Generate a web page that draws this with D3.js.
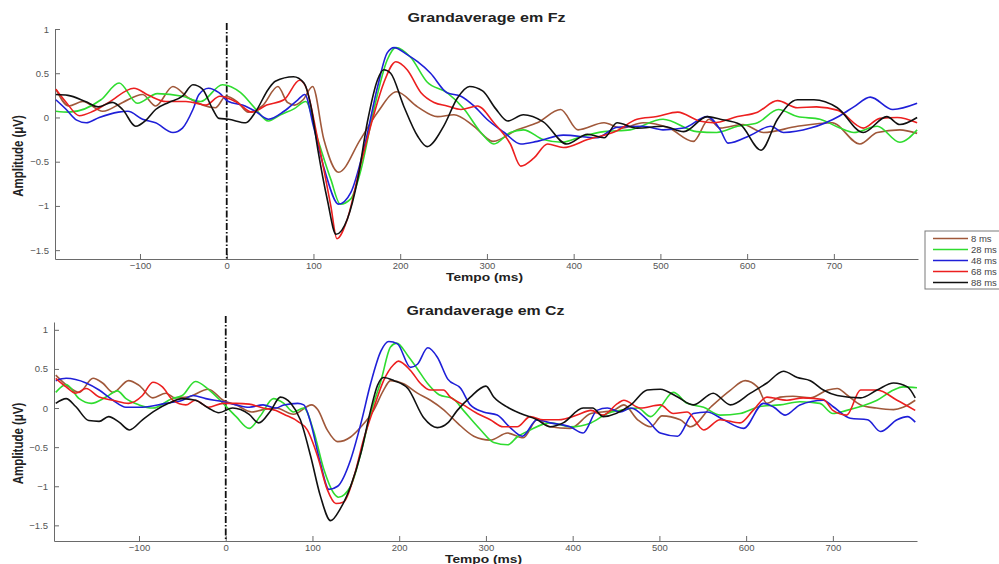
<!DOCTYPE html>
<html>
<head>
<meta charset="utf-8">
<script src="https://cdn.jsdelivr.net/npm/d3@7"></script>
<style>
  body { margin: 0; background: #fff; }
  svg { display: block; font-family: "Liberation Sans", Arial, sans-serif; }
</style>
</head>
<body>
<svg width="999" height="564"></svg>
<script>
// ERP grand averages, [time (ms), amplitude (uV)]
const legendLabels = ['8 ms', '28 ms', '48 ms', '68 ms', '88 ms'];
const lineColors = ['#a0583a', '#2fdc2f', '#1f1fd8', '#ec1f1f', '#111111'];
const xTicks = [-100, 0, 100, 200, 300, 400, 500, 600, 700];
const yTicks = [-1.5, -1, -0.5, 0, 0.5, 1];

const fz8 = [[-197,0.32],[-182,0.13],[-166,0.18],[-143,0.07],[-120,0.17],[-97,0.26],[-82,0.13],[-62,0.35],[-44,0.22],[-13,0.11],[-1,0.24],[12,0.18],[25,0.06],[41,0.13],[59,0.35],[70,0.17],[78,0.14],[88,0.2],[99,0.35],[112,-0.25],[129,-0.62],[154,-0.25],[174,0.06],[196,0.29],[220,0.12],[243,0.01],[262,0.03],[285,-0.1],[307,-0.27],[335,-0.14],[358,-0.06],[385,0.09],[405,-0.14],[435,-0.06],[455,-0.12],[480,-0.06],[510,-0.12],[538,-0.27],[556,-0.02],[569,-0.12],[595,-0.08],[619,-0.17],[658,-0.1],[698,-0.06],[730,-0.3],[750,-0.17],[776,-0.14],[796,-0.18]];
const fz28 = [[-197,0.07],[-182,0.06],[-145,0.2],[-124,0.39],[-103,0.16],[-80,0.27],[-51,0.24],[-30,0.18],[-5,0.37],[16,0.28],[33,0.1],[48,-0.04],[62,0.03],[78,0.1],[91,0.18],[105,-0.25],[120,-0.7],[131,-0.98],[143,-0.92],[154,-0.62],[169,0.06],[185,0.65],[195,0.79],[212,0.68],[231,0.4],[254,0.28],[274,0.09],[293,-0.17],[308,-0.3],[327,-0.17],[342,-0.14],[365,-0.25],[386,-0.28],[411,-0.21],[435,-0.16],[465,-0.14],[503,-0.02],[542,-0.16],[565,-0.17],[589,-0.1],[612,-0.06],[636,0.09],[658,0.01],[684,-0.02],[707,-0.12],[723,-0.17],[750,-0.1],[776,-0.28],[796,-0.14]];
const fz48 = [[-197,0.2],[-185,0.09],[-173,-0.03],[-162,-0.06],[-147,0.0],[-125,0.06],[-114,0.07],[-97,-0.02],[-82,-0.06],[-62,-0.17],[-51,-0.12],[-39,0.09],[-32,0.26],[-21,0.33],[-9,0.28],[2,0.18],[18,0.14],[33,0.07],[48,-0.02],[66,0.07],[82,0.2],[90,0.26],[100,-0.1],[113,-0.6],[129,-0.98],[143,-0.85],[158,-0.36],[174,0.35],[185,0.73],[193,0.79],[208,0.71],[220,0.63],[235,0.5],[254,0.28],[270,0.24],[285,0.13],[300,-0.02],[320,-0.17],[339,-0.3],[358,-0.27],[388,-0.2],[427,-0.23],[450,-0.11],[480,-0.1],[503,-0.14],[527,-0.12],[554,0.01],[569,-0.14],[578,-0.29],[604,-0.2],[627,-0.1],[642,-0.17],[673,-0.12],[707,0.02],[723,0.12],[742,0.23],[768,0.09],[796,0.16]];
const fz68 = [[-197,0.32],[-185,0.17],[-170,0.02],[-154,0.07],[-136,0.17],[-107,0.33],[-90,0.25],[-70,0.18],[-47,0.18],[-24,0.14],[-8,0.24],[12,0.17],[29,0.06],[46,0.14],[66,0.2],[84,0.42],[91,0.35],[105,-0.25],[120,-1.0],[127,-1.37],[139,-1.15],[154,-0.55],[169,0.01],[181,0.39],[195,0.63],[208,0.54],[224,0.28],[239,0.17],[254,0.13],[270,0.09],[289,0.13],[308,-0.06],[327,-0.3],[339,-0.55],[354,-0.46],[370,-0.3],[388,-0.34],[416,-0.25],[450,-0.15],[473,-0.02],[496,0.01],[520,0.06],[545,-0.04],[561,-0.06],[589,0.01],[612,0.06],[635,0.19],[658,0.11],[680,0.12],[705,0.08],[734,-0.12],[753,-0.01],[773,0.0],[796,-0.06]];
const fz88 = [[-197,0.26],[-183,0.25],[-163,0.18],[-148,0.12],[-132,0.17],[-120,0.09],[-105,-0.1],[-93,-0.03],[-82,0.09],[-67,0.17],[-51,0.24],[-39,0.37],[-28,0.32],[-16,0.09],[-9,-0.01],[2,-0.02],[22,-0.06],[33,0.06],[48,0.32],[56,0.41],[77,0.46],[89,0.39],[97,0.13],[105,-0.36],[116,-0.93],[126,-1.32],[139,-1.15],[151,-0.7],[162,-0.06],[174,0.43],[181,0.54],[189,0.5],[204,0.13],[220,-0.21],[231,-0.33],[250,-0.1],[266,0.22],[280,0.35],[295,0.3],[310,0.1],[324,-0.04],[342,0.03],[365,-0.05],[392,-0.3],[416,-0.19],[435,-0.23],[450,-0.06],[473,-0.12],[503,-0.1],[527,-0.16],[554,0.01],[569,-0.02],[592,-0.08],[616,-0.37],[635,-0.02],[658,0.2],[677,0.2],[704,0.11],[734,-0.17],[761,0.01],[776,-0.08],[796,0.0]];

const cz8 = [[-196,0.42],[-181,0.27],[-169,0.2],[-153,0.38],[-142,0.32],[-130,0.2],[-112,0.35],[-100,0.29],[-84,0.13],[-69,0.19],[-58,0.13],[-44,0.14],[-20,0.24],[-3,0.1],[12,0.04],[30,-0.05],[43,-0.02],[58,0.0],[78,-0.08],[99,0.04],[106,-0.02],[117,-0.28],[129,-0.43],[144,-0.37],[156,-0.24],[171,-0.02],[182,0.23],[190,0.35],[205,0.31],[221,0.19],[236,0.1],[251,-0.02],[267,-0.19],[286,-0.36],[305,-0.41],[325,-0.32],[343,-0.38],[359,-0.15],[374,-0.24],[397,-0.26],[421,-0.07],[447,-0.03],[459,0.04],[475,-0.15],[490,-0.24],[503,-0.1],[524,-0.15],[536,-0.24],[559,0.01],[582,0.23],[599,0.35],[613,0.27],[624,0.06],[639,0.14],[654,0.15],[674,0.13],[694,0.23],[705,0.25],[717,0.16],[732,0.04],[750,0.0],[770,-0.02],[781,0.01],[795,0.1]];
const cz28 = [[-196,0.2],[-184,0.3],[-169,0.12],[-155,0.06],[-138,0.14],[-125,0.22],[-115,0.12],[-100,0.04],[-84,0.0],[-62,0.12],[-50,0.16],[-35,0.34],[-20,0.24],[-3,0.06],[12,-0.11],[27,-0.26],[40,-0.1],[55,0.12],[67,0.06],[78,-0.05],[90,0.0],[101,-0.28],[113,-0.78],[124,-1.08],[130,-1.14],[144,-1.0],[156,-0.57],[167,-0.07],[179,0.35],[190,0.78],[197,0.83],[210,0.67],[221,0.5],[233,0.31],[246,0.17],[262,0.12],[274,-0.03],[294,-0.28],[309,-0.44],[325,-0.47],[336,-0.37],[351,-0.28],[374,-0.19],[397,-0.24],[421,-0.19],[440,-0.07],[455,-0.03],[475,0.0],[490,-0.11],[501,0.01],[516,0.2],[532,0.06],[551,0.01],[570,-0.09],[593,-0.07],[616,0.02],[639,0.04],[662,0.08],[685,0.06],[700,-0.07],[716,-0.03],[732,0.02],[751,0.1],[770,0.23],[781,0.27],[797,0.26]];
const cz48 = [[-196,0.35],[-184,0.38],[-161,0.32],[-146,0.23],[-130,0.1],[-115,0.01],[-96,0.01],[-69,0.06],[-50,0.1],[-38,0.16],[-23,0.12],[-3,0.08],[12,0.04],[27,0.01],[43,0.04],[58,0.0],[67,0.04],[83,0.06],[90,0.04],[98,-0.19],[109,-0.7],[119,-1.04],[129,-1.0],[144,-0.66],[156,-0.19],[167,0.31],[179,0.73],[188,0.85],[198,0.82],[213,0.52],[221,0.56],[233,0.77],[244,0.65],[256,0.37],[271,0.25],[282,0.04],[297,-0.05],[313,-0.09],[328,-0.25],[342,-0.36],[359,-0.15],[374,-0.19],[397,-0.24],[412,-0.32],[428,-0.03],[440,0.0],[455,-0.05],[467,0.0],[486,-0.15],[501,-0.32],[521,-0.36],[539,-0.07],[555,-0.05],[574,-0.15],[597,-0.26],[620,0.06],[632,0.01],[645,-0.09],[662,0.04],[689,0.1],[700,0.02],[720,-0.13],[740,-0.15],[755,-0.3],[774,-0.15],[786,-0.11],[795,-0.18]];
const cz68 = [[-196,0.38],[-184,0.27],[-173,0.19],[-161,0.25],[-146,0.14],[-130,0.1],[-112,0.06],[-96,0.16],[-84,0.33],[-73,0.27],[-61,0.1],[-46,0.04],[-35,0.1],[-20,0.01],[-3,0.06],[12,0.06],[27,0.05],[43,0.0],[58,-0.03],[67,-0.08],[83,-0.17],[94,-0.28],[106,-0.62],[117,-1.04],[127,-1.22],[136,-1.2],[148,-0.87],[159,-0.4],[171,0.01],[182,0.35],[194,0.56],[199,0.6],[213,0.48],[225,0.31],[236,0.23],[251,0.23],[259,0.14],[274,0.04],[290,-0.07],[305,-0.15],[320,-0.24],[336,-0.24],[351,-0.11],[366,-0.15],[384,-0.15],[405,-0.09],[421,-0.03],[435,-0.09],[452,0.06],[459,0.1],[478,0.0],[501,0.04],[516,-0.07],[532,-0.05],[551,-0.28],[570,-0.15],[593,-0.19],[608,-0.03],[624,0.14],[647,0.1],[666,0.13],[689,0.11],[700,-0.03],[716,-0.09],[732,0.23],[751,0.23],[774,0.1],[795,-0.03]];
const cz88 = [[-196,0.06],[-184,0.12],[-173,0.02],[-158,-0.16],[-146,-0.17],[-135,-0.11],[-123,-0.18],[-111,-0.28],[-96,-0.15],[-81,-0.03],[-66,0.06],[-50,0.12],[-35,0.1],[-20,0.0],[-8,-0.06],[8,0.0],[27,-0.08],[38,-0.19],[52,-0.03],[63,0.14],[75,0.06],[86,-0.15],[98,-0.62],[109,-1.12],[121,-1.44],[132,-1.29],[144,-1.0],[156,-0.57],[167,-0.03],[175,0.29],[182,0.39],[194,0.35],[210,0.25],[228,-0.12],[244,-0.25],[256,-0.19],[267,-0.03],[282,0.14],[300,0.28],[309,0.14],[325,0.01],[340,-0.07],[359,-0.15],[374,-0.24],[389,-0.19],[412,0.0],[423,0.0],[435,-0.11],[467,0.04],[486,0.23],[501,0.24],[521,0.14],[539,0.04],[562,0.19],[582,0.04],[605,0.19],[624,0.32],[643,0.47],[659,0.39],[674,0.35],[689,0.23],[705,0.16],[732,0.13],[751,0.23],[770,0.32],[786,0.27],[795,0.13]];

const panels = [
  { title: 'Grandaverage em Fz', series: [fz8, fz28, fz48, fz68, fz88],
    yDomain: [-1.6, 1.0], top: 29, bottom: 259, left: 55, right: 918 },
  { title: 'Grandaverage em Cz', series: [cz8, cz28, cz48, cz68, cz88],
    yDomain: [-1.7, 1.1], top: 322, bottom: 541, left: 54, right: 917 }
];

const svg = d3.select('svg');
svg.append('rect').attr('width', 999).attr('height', 564).attr('fill', '#fff');

panels.forEach((p) => {
  const x = d3.scaleLinear().domain([-198, 797]).range([p.left, p.right]);
  const y = d3.scaleLinear().domain(p.yDomain).range([p.bottom, p.top]);
  const g = svg.append('g');

  const xAxis = g.append('g')
    .attr('transform', `translate(0,${p.bottom})`)
    .call(d3.axisBottom(x).tickValues(xTicks).tickSizeInner(-5).tickSizeOuter(0).tickPadding(3));
  const yAxis = g.append('g')
    .attr('transform', `translate(${p.left},0)`)
    .call(d3.axisLeft(y).tickValues(yTicks).tickSizeInner(-5).tickSizeOuter(0).tickPadding(6)
      .tickFormat(d3.format('')));

  [xAxis, yAxis].forEach((a) => {
    a.select('.domain').attr('stroke', '#6a6a6a');
    a.selectAll('.tick line').attr('stroke', '#6a6a6a');
    a.selectAll('.tick text').attr('fill', '#555').attr('font-size', 9.5)
      .attr('font-family', '"Liberation Sans", Arial, sans-serif');
  });

  // stimulus onset
  g.append('line')
    .attr('x1', x(0)).attr('x2', x(0))
    .attr('y1', p.top - 6).attr('y2', p.bottom)
    .attr('stroke', '#111').attr('stroke-width', 1.8)
    .attr('stroke-dasharray', '7,2,1.5,2');

  const line = d3.line()
    .x((d) => x(d[0]))
    .y((d) => y(d[1]))
    .curve(d3.curveMonotoneX);

  g.selectAll('.erp')
    .data(p.series)
    .enter()
    .append('path')
      .classed('erp', true)
      .attr('d', line)
      .attr('fill', 'none')
      .attr('stroke', (d, i) => lineColors[i])
      .attr('stroke-width', 1.6)
      .attr('stroke-linejoin', 'round');

  const cx = (p.left + p.right) / 2;
  g.append('text')
    .attr('x', cx).attr('y', p.top - 7)
    .attr('text-anchor', 'middle')
    .attr('font-size', 12).attr('font-weight', 'bold').attr('fill', '#222')
    .attr('textLength', 158).attr('lengthAdjust', 'spacingAndGlyphs')
    .text(p.title);

  g.append('text')
    .attr('x', cx - 2).attr('y', p.bottom + 22)
    .attr('text-anchor', 'middle')
    .attr('font-size', 10.5).attr('font-weight', 'bold').attr('fill', '#222')
    .attr('textLength', 77).attr('lengthAdjust', 'spacingAndGlyphs')
    .text('Tempo (ms)');

  g.append('text')
    .attr('transform', `translate(23,${(p.top + p.bottom) / 2 + 12}) scale(1.25,1) rotate(-90)`)
    .attr('text-anchor', 'middle')
    .attr('font-size', 11.5).attr('font-weight', 'bold').attr('fill', '#222')
    .text('Amplitude (\u03bcV)');
});

// legend
const legend = svg.append('g').attr('transform', 'translate(925,231)');
legend.append('rect')
  .attr('width', 90).attr('height', 58)
  .attr('fill', '#fff').attr('stroke', '#7a7a7a');
legendLabels.forEach((lab, i) => {
  const row = legend.append('g').attr('transform', `translate(0,${7.5 + i * 11})`);
  row.append('line')
    .attr('x1', 8).attr('x2', 43)
    .attr('stroke', lineColors[i]).attr('stroke-width', 1.6);
  row.append('text')
    .attr('x', 46).attr('y', 3.5)
    .attr('font-size', 9.5).attr('fill', '#444')
    .text(lab);
});
</script>
</body>
</html>
